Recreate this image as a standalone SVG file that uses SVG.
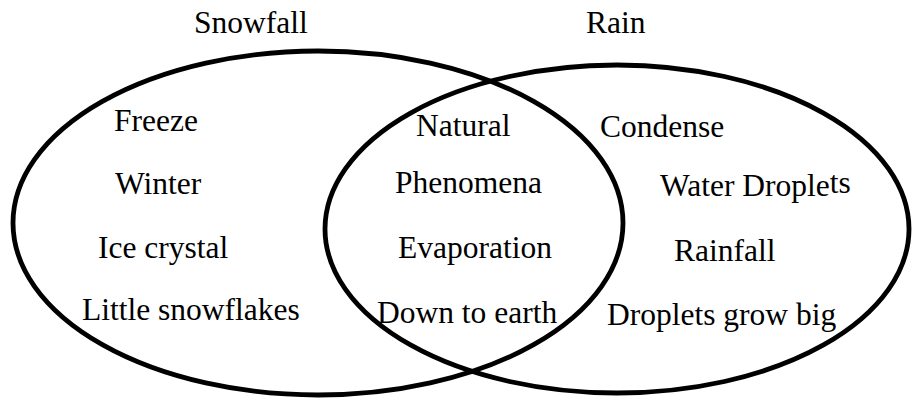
<svg xmlns="http://www.w3.org/2000/svg" width="912" height="399" viewBox="0 0 912 399" font-family="'Liberation Serif', 'Times New Roman', serif" font-size="31.5">
<style>
.set{fill:none;stroke:#000;stroke-width:4.8}
.t{font-family:'Liberation Serif','Times New Roman',serif;font-size:31.5px;fill:#000}
</style>
<rect width="912" height="399" fill="#fff"/>
<g id="snowfall">
<ellipse class="set" cx="318" cy="223" rx="305" ry="172"/>
<text class="t" x="194" y="33">Snowfall</text>
<text class="t" x="114" y="131">Freeze</text>
<text class="t" x="115" y="194">Winter</text>
<text class="t" x="98" y="258">Ice crystal</text>
<text class="t" x="82" y="320">Little snowflakes</text>
</g>
<g id="rain">
<ellipse class="set" cx="617" cy="229" rx="292" ry="164"/>
<text class="t" x="586" y="33">Rain</text>
<text class="t" x="600" y="137">Condense</text>
<text class="t" x="660" y="196">Water Drople<tspan dy="-3">ts</tspan></text>
<text class="t" x="674" y="261">Rainfall</text>
<text class="t" x="607" y="325">Droplets grow big</text>
</g>
<g id="both">
<text class="t" x="416" y="136">Natural</text>
<text class="t" x="395" y="193">Phenomena</text>
<text class="t" x="398" y="258">Evaporation</text>
<text class="t" x="377" y="323">Down to earth</text>
</g>
<g id="connectors"/>
</svg>
